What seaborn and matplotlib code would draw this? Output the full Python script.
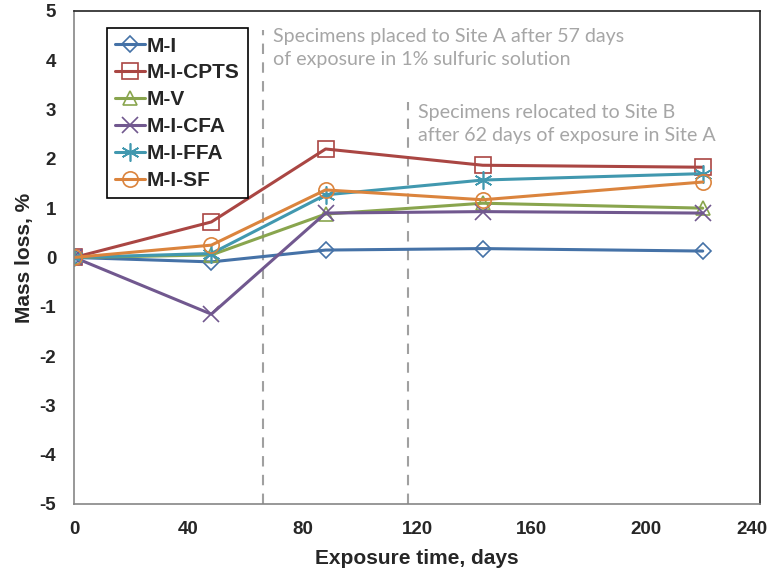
import seaborn as sns
import matplotlib.pyplot as plt
import matplotlib.transforms as mtrans
import pandas as pd

days = [0, 48, 88, 143, 220]
series = ["M-I", "M-I-CPTS", "M-V", "M-I-CFA", "M-I-FFA", "M-I-SF"]
m_i = [0, -0.09, 0.15, 0.18, 0.13]
m_i_cpts = [0, 0.72, 2.2, 1.87, 1.83]
m_v = [0, 0.05, 0.88, 1.1, 1.0]
m_i_cfa = [0, -1.15, 0.9, 0.93, 0.9]
m_i_ffa = [0, 0.08, 1.27, 1.57, 1.7]
m_i_sf = [0, 0.25, 1.37, 1.17, 1.53]
event_days = [66, 117]
note1 = "Specimens placed to Site A after 57 days\nof exposure in 1% sulfuric solution"
note2 = "Specimens relocated to Site B\nafter 62 days of exposure in Site A"

colors = ["#4572A7", "#AA4643", "#89A54E", "#71588F", "#4198AF", "#DB843D"]
markers = ["D", "s", "^", "x", (6, 2, 0), "o"]
msizes = [8, 11, 10, 11, 13, 11]

vals = [m_i, m_i_cpts, m_v, m_i_cfa, m_i_ffa, m_i_sf]
df = pd.DataFrame({"day": days * len(series),
                   "loss": sum(vals, []),
                   "mix": [s for s in series for _ in days]})

sns.set_style("white")
plt.rcParams['font.family'] = ['Liberation Sans', 'DejaVu Sans']
plt.rcParams['axes.unicode_minus'] = False

fig = plt.figure(figsize=(7.73, 5.75), dpi=100)
ax = fig.add_axes([0.096, 0.1235, 0.887, 0.8575])

for s, c, m, ms in zip(series, colors, markers, msizes):
    sub = df[df["mix"] == s]
    sns.lineplot(data=sub, x="day", y="loss", ax=ax, color=c, lw=2.2,
                 marker=m, markersize=ms, markerfacecolor="none",
                 markeredgecolor=c, markeredgewidth=1.2, label=s)

# dashed event lines (first from near top, second below first note)
ax.axvline(event_days[0], ymax=0.962, color="#A0A0A0", ls=(0, (5, 4)), lw=1.5, zorder=0)
ax.axvline(event_days[1], ymax=0.815, color="#A0A0A0", ls=(0, (5, 4)), lw=1.5, zorder=0)

ax.text(69.5, 4.66, note1, family=["Lato", "DejaVu Sans"], fontsize=14.1,
        color="#A6A6A6", va="top", linespacing=1.42)
ax.text(120.5, 3.12, note2, family=["Lato", "DejaVu Sans"], fontsize=14.1,
        color="#A6A6A6", va="top", linespacing=1.42)

ax.set_xlim(0, 240)
ax.set_ylim(-5, 5)
ax.set_xticks(range(0, 241, 40))
ax.set_yticks(range(-5, 6))
ax.tick_params(labelsize=13.5, length=5, direction="out", color="#868686")
ax.tick_params(axis="y", pad=8)
ax.tick_params(axis="x", pad=7)
for lab in ax.get_xticklabels() + ax.get_yticklabels():
    lab.set_fontweight("bold")
# last x label sits a little inside the edge, as in the original
last = ax.get_xticklabels()[-1]
last.set_transform(last.get_transform() + mtrans.ScaledTranslation(-6 / 72, 0, fig.dpi_scale_trans))
ax.set_xlabel("Exposure time, days", fontsize=15, fontweight="bold", labelpad=8)
ax.set_ylabel("Mass loss, %", fontsize=15, fontweight="bold", labelpad=4)

for side in ["left", "bottom"]:
    ax.spines[side].set_color("#868686")
for side in ["top", "right"]:
    ax.spines[side].set_color("#222222")
for sp in ax.spines.values():
    sp.set_linewidth(1.2)

leg = ax.legend(loc="upper left", bbox_to_anchor=(0.048, 0.965), frameon=True,
                fancybox=False, edgecolor="black", framealpha=1,
                prop={"weight": "bold", "size": 15}, handlelength=1.4,
                handletextpad=0.1, labelspacing=0.38, borderpad=0.4,
                borderaxespad=0)
leg.get_frame().set_linewidth(1.2)

fig.savefig("out.png", dpi=100)
